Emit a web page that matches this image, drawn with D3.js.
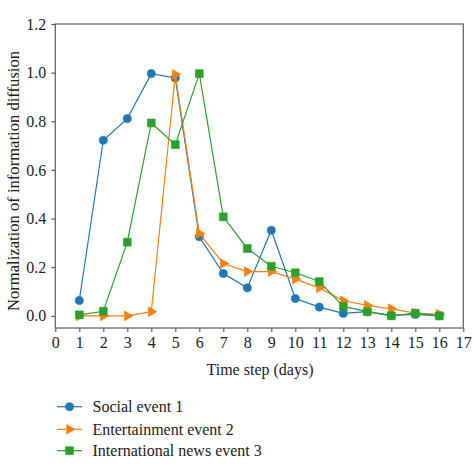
<!DOCTYPE html>
<html>
<head>
<meta charset="utf-8">
<script src="https://cdn.jsdelivr.net/npm/d3@7"></script>
<style>
  body { margin: 0; background: #fff; }
  svg text { font-family: "Liberation Serif", "DejaVu Serif", serif !important; fill: #222; }
</style>
</head>
<body>
<svg id="viz"></svg>
<script>
// Values.
const days = [1, 2, 3, 4, 5, 6, 7, 8, 9, 10, 11, 12, 13, 14, 15, 16];
const social = [0.063, 0.722, 0.811, 0.996, 0.978, 0.325, 0.174, 0.115, 0.352, 0.071, 0.036, 0.010, 0.017, 0.002, 0.006, 0.0];
const entertainment = [0.0, 0.0, 0.0, 0.017, 0.993, 0.339, 0.215, 0.182, 0.182, 0.151, 0.115, 0.062, 0.043, 0.029, 0.011, 0.007];
const international = [0.004, 0.019, 0.303, 0.793, 0.704, 0.996, 0.407, 0.277, 0.204, 0.177, 0.141, 0.039, 0.017, 0.0, 0.011, 0.0];
const seriesNames = ["Social event 1", "Entertainment event 2", "International news event 3"];
const xTicks = d3.range(0, 18);
const yTicks = [0.0, 0.2, 0.4, 0.6, 0.8, 1.0, 1.2];

const width = 474, height = 474;
const margin = {left: 55.3, right: 474 - 463.3, top: 24, bottom: 474 - 328};

const svg = d3.select("#viz").attr("width", width).attr("height", height);

const x = d3.scaleLinear().domain([0, 17]).range([margin.left, width - margin.right]);
const y = d3.scaleLinear().domain([-0.05, 1.2]).range([height - margin.bottom, margin.top]);

const series = [
  {name: seriesNames[0], values: social, color: "#1f77b4", shape: "circle"},
  {name: seriesNames[1], values: entertainment, color: "#ff7f0e", shape: "triangle"},
  {name: seriesNames[2], values: international, color: "#2ca02c", shape: "square"}
];

// marker shapes, matplotlib style: o, >, s
function marker(shape) {
  if (shape === "circle") return d3.symbol(d3.symbolCircle, 52)();
  if (shape === "square") return d3.symbol(d3.symbolSquare, 62)();
  return d3.symbol(d3.symbolTriangle, 42)();
}
function markerTransform(shape, px, py) {
  return "translate(" + px + "," + py + ")" + (shape === "triangle" ? " rotate(90)" : "");
}

// frame
svg.append("rect")
  .attr("x", x(0)).attr("y", y(1.2))
  .attr("width", x(17) - x(0)).attr("height", y(-0.05) - y(1.2))
  .attr("fill", "none").attr("stroke", "#666").attr("stroke-width", 1.3);

// axes
const xAxis = svg.append("g")
  .attr("transform", "translate(0," + y(-0.05) + ")")
  .call(d3.axisBottom(x).tickValues(xTicks).tickFormat(d3.format("d")).tickSize(4).tickPadding(5));
const yAxis = svg.append("g")
  .attr("transform", "translate(" + x(0) + ",0)")
  .call(d3.axisLeft(y).tickValues(yTicks).tickFormat(d3.format(".1f")).tickSize(4).tickPadding(5));

[xAxis, yAxis].forEach(function(ax) {
  ax.attr("font-family", null).attr("font-size", 16);
  ax.select(".domain").remove();
  ax.selectAll(".tick line").attr("stroke", "#555").attr("stroke-width", 1.1);
  ax.selectAll(".tick text").attr("fill", "#222");
});

// lines and markers
const line = d3.line()
  .x(function(d, i) { return x(days[i]); })
  .y(function(d) { return y(d); });

series.forEach(function(s) {
  const g = svg.append("g");
  g.append("path")
    .attr("d", line(s.values))
    .attr("fill", "none")
    .attr("stroke", s.color)
    .attr("stroke-width", 1.2);
  g.selectAll("path.mark")
    .data(s.values)
    .enter().append("path")
    .attr("class", "mark")
    .attr("d", marker(s.shape))
    .attr("transform", function(d, i) { return markerTransform(s.shape, x(days[i]), y(d)); })
    .attr("fill", s.color)
    .attr("stroke", s.color)
    .attr("stroke-width", 0.6);
});

// axis titles
svg.append("text")
  .attr("x", 260).attr("y", 375)
  .attr("text-anchor", "middle")
  .attr("font-size", 16)
  .text("Time step (days)");

svg.append("text")
  .attr("transform", "translate(19,181) rotate(-90)")
  .attr("text-anchor", "middle")
  .attr("font-size", 16.6)
  .text("Normalization of information diffusion");

// legend
const legend = svg.append("g");
const rowY = [406.7, 429.3, 450.7];
series.forEach(function(s, i) {
  const row = legend.append("g");
  row.append("line")
    .attr("x1", 57).attr("x2", 82)
    .attr("y1", rowY[i]).attr("y2", rowY[i])
    .attr("stroke", s.color).attr("stroke-width", 1.2);
  row.append("path")
    .attr("d", marker(s.shape))
    .attr("transform", markerTransform(s.shape, 69.5, rowY[i]))
    .attr("fill", s.color).attr("stroke", s.color).attr("stroke-width", 0.6);
  row.append("text")
    .attr("x", 92.5).attr("y", rowY[i])
    .attr("dy", "0.35em")
    .attr("font-size", 16)
    .text(s.name);
});
</script>
</body>
</html>
